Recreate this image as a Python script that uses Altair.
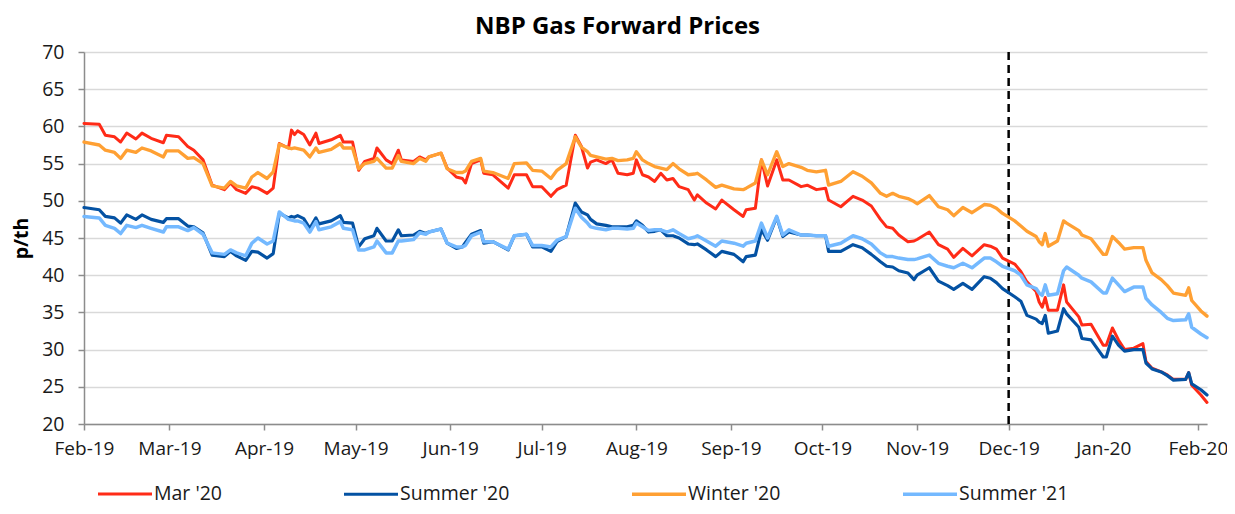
import altair as alt
import pandas as pd

# ---- data ----
dates = [
    "2019-02-01", "2019-02-06", "2019-02-08", "2019-02-11", "2019-02-13", "2019-02-15", "2019-02-18",
    "2019-02-20", "2019-02-23", "2019-02-27", "2019-02-28", "2019-03-04", "2019-03-07", "2019-03-09",
    "2019-03-12", "2019-03-15", "2019-03-19", "2019-03-21", "2019-03-23", "2019-03-26", "2019-03-28",
    "2019-03-30", "2019-04-02", "2019-04-04", "2019-04-06", "2019-04-09", "2019-04-10", "2019-04-11",
    "2019-04-12", "2019-04-14", "2019-04-16", "2019-04-18", "2019-04-19", "2019-04-23", "2019-04-26",
    "2019-04-27", "2019-04-30", "2019-05-02", "2019-05-04", "2019-05-07", "2019-05-08", "2019-05-11",
    "2019-05-13", "2019-05-15", "2019-05-16", "2019-05-20", "2019-05-22", "2019-05-24", "2019-05-25",
    "2019-05-29", "2019-05-31", "2019-06-03", "2019-06-05", "2019-06-06", "2019-06-08", "2019-06-11",
    "2019-06-12", "2019-06-15", "2019-06-20", "2019-06-22", "2019-06-26", "2019-06-28", "2019-07-01",
    "2019-07-04", "2019-07-06", "2019-07-09", "2019-07-12", "2019-07-14", "2019-07-16", "2019-07-17",
    "2019-07-19", "2019-07-22", "2019-07-24", "2019-07-26", "2019-07-29", "2019-07-31", "2019-08-01",
    "2019-08-03", "2019-08-05", "2019-08-07", "2019-08-09", "2019-08-11", "2019-08-13", "2019-08-15",
    "2019-08-18", "2019-08-20", "2019-08-21", "2019-08-24", "2019-08-27", "2019-08-29", "2019-09-02",
    "2019-09-05", "2019-09-06", "2019-09-09", "2019-09-11", "2019-09-13", "2019-09-16", "2019-09-18",
    "2019-09-20", "2019-09-24", "2019-09-26", "2019-09-29", "2019-10-02", "2019-10-03", "2019-10-07",
    "2019-10-11", "2019-10-14", "2019-10-17", "2019-10-20", "2019-10-22", "2019-10-24", "2019-10-26",
    "2019-10-29", "2019-10-31", "2019-11-01", "2019-11-05", "2019-11-08", "2019-11-11", "2019-11-13",
    "2019-11-16", "2019-11-19", "2019-11-23", "2019-11-25", "2019-11-27", "2019-11-29", "2019-12-03",
    "2019-12-05", "2019-12-07", "2019-12-10", "2019-12-11", "2019-12-12", "2019-12-13", "2019-12-14",
    "2019-12-17", "2019-12-19", "2019-12-20", "2019-12-24", "2019-12-25", "2019-12-28", "2020-01-01",
    "2020-01-02", "2020-01-04", "2020-01-06", "2020-01-08", "2020-01-11", "2020-01-14", "2020-01-15",
    "2020-01-17", "2020-01-20", "2020-01-22", "2020-01-24", "2020-01-28", "2020-01-29", "2020-01-30",
    "2020-02-02", "2020-02-04",
]

mar20 = [
    60.4, 60.3, 58.8, 58.6, 57.9, 59.1, 58.3, 59.1, 58.4, 57.8, 58.8, 58.6, 57.3, 56.8,
    55.5, 52.1, 51.5, 52.4, 51.5, 51.0, 51.9, 51.7, 51.0, 51.7, 57.7, 57.1, 59.5, 58.9,
    59.4, 58.9, 57.5, 59.1, 57.7, 58.2, 58.8, 57.9, 57.9, 54.1, 55.3, 55.7, 57.1, 55.5,
    55.0, 56.8, 55.5, 55.3, 55.9, 55.5, 55.9, 56.4, 54.4, 53.2, 53.0, 52.4, 55.0, 55.5,
    53.7, 53.5, 51.7, 53.5, 53.5, 51.9, 51.9, 50.6, 51.5, 52.1, 58.8, 57.3, 54.4, 55.2,
    55.5, 55.0, 55.5, 53.7, 53.5, 53.7, 55.5, 53.5, 53.2, 52.6, 53.7, 52.8, 53.0, 51.9,
    51.5, 50.1, 50.8, 49.7, 48.9, 50.1, 48.8, 47.9, 48.8, 49.0, 55.5, 52.0, 55.5, 52.8,
    52.8, 51.9, 52.1, 51.5, 51.7, 50.1, 49.2, 50.6, 50.1, 49.3, 47.5, 46.5, 46.3, 45.4,
    44.5, 44.6, 44.8, 45.8, 44.1, 43.5, 42.4, 43.6, 42.6, 44.1, 43.9, 43.5, 42.3, 41.5,
    40.5, 39.1, 37.8, 36.4, 35.7, 37.0, 35.3, 35.3, 38.7, 36.4, 34.4, 33.3, 33.4, 30.6,
    30.6, 32.9, 31.3, 30.0, 30.2, 30.8, 28.4, 27.5, 27.0, 26.6, 26.0, 26.0, 26.9, 25.2,
    23.9, 22.9,
]

summer20 = [
    49.1, 48.8, 47.9, 47.7, 47.0, 48.1, 47.5, 48.1, 47.5, 47.1, 47.6, 47.6, 46.6, 46.5,
    45.7, 42.7, 42.5, 43.2, 42.6, 42.0, 43.2, 43.1, 42.3, 42.9, 48.3, 47.7, 47.9, 47.8,
    48.0, 47.6, 46.3, 47.7, 46.9, 47.3, 48.0, 47.1, 47.0, 43.8, 44.9, 45.3, 46.3, 44.6,
    44.6, 46.1, 45.3, 45.4, 45.9, 45.6, 45.8, 46.2, 44.3, 43.6, 43.8, 44.4, 45.5, 46.0,
    44.3, 44.5, 43.4, 45.3, 45.5, 43.8, 43.8, 43.2, 44.5, 45.2, 49.7, 48.5, 48.1, 47.5,
    46.9, 46.7, 46.5, 46.5, 46.5, 46.7, 47.3, 46.7, 45.8, 45.9, 46.1, 45.3, 45.3, 45.0,
    44.2, 44.1, 44.2, 43.4, 42.5, 43.2, 42.8, 41.8, 42.5, 42.7, 46.1, 44.7, 47.8, 45.2,
    45.8, 45.4, 45.4, 45.3, 45.3, 43.2, 43.2, 44.1, 43.7, 42.8, 41.8, 41.2, 41.1, 40.6,
    40.3, 39.4, 40.0, 41.0, 39.2, 38.6, 38.1, 38.9, 38.1, 39.8, 39.6, 39.0, 38.2, 37.1,
    36.5, 34.6, 34.1, 33.7, 33.5, 34.6, 32.2, 32.5, 35.5, 34.8, 33.0, 31.5, 31.3, 29.0,
    29.0, 31.8, 30.6, 29.8, 30.0, 30.0, 28.2, 27.4, 27.0, 26.5, 25.9, 26.0, 26.9, 25.4,
    24.6, 23.9,
]

winter20 = [
    57.9, 57.5, 56.8, 56.5, 55.7, 56.8, 56.5, 57.1, 56.7, 55.9, 56.7, 56.7, 55.7, 55.8,
    55.0, 52.0, 51.7, 52.6, 52.0, 51.7, 53.2, 53.8, 53.0, 53.9, 57.6, 57.1, 57.0, 57.1,
    57.0, 56.8, 55.9, 57.1, 56.5, 56.9, 57.7, 57.1, 57.1, 54.3, 55.0, 55.3, 55.7, 54.4,
    54.4, 56.1, 55.3, 55.0, 55.7, 55.3, 55.9, 56.4, 54.3, 53.8, 53.8, 54.0, 55.3, 55.7,
    54.0, 53.8, 53.0, 55.0, 55.1, 54.1, 54.0, 53.0, 54.1, 55.0, 58.6, 57.2, 56.6, 56.1,
    55.9, 55.6, 55.7, 55.4, 55.5, 55.7, 56.6, 55.5, 55.0, 54.6, 54.4, 54.2, 55.0, 54.3,
    53.5, 53.6, 53.7, 52.8, 51.8, 52.1, 51.6, 51.5, 51.7, 52.4, 55.5, 53.5, 56.6, 54.6,
    55.0, 54.5, 54.1, 53.9, 54.1, 52.1, 52.6, 53.9, 53.3, 52.4, 51.0, 50.6, 51.0, 50.6,
    50.3, 49.9, 49.6, 50.7, 49.2, 48.8, 48.0, 49.1, 48.4, 49.5, 49.4, 49.0, 48.3, 47.3,
    46.6, 45.9, 45.2, 44.5, 44.1, 45.6, 43.9, 44.6, 47.3, 47.0, 46.0, 45.4, 44.9, 42.8,
    42.8, 45.2, 44.4, 43.5, 43.7, 43.7, 42.0, 40.3, 39.4, 38.6, 37.6, 37.3, 38.3, 36.6,
    35.2, 34.5,
]

summer21 = [
    47.9, 47.7, 46.7, 46.3, 45.6, 46.7, 46.4, 46.7, 46.3, 45.8, 46.5, 46.5, 46.0, 46.4,
    45.5, 43.0, 42.8, 43.4, 43.0, 42.6, 44.3, 45.0, 44.2, 44.6, 48.5, 47.5, 47.4, 47.3,
    47.3, 47.0, 45.8, 47.2, 46.1, 46.5, 47.2, 46.3, 46.1, 43.4, 43.4, 43.8, 44.6, 43.0,
    43.0, 44.6, 44.6, 44.8, 45.7, 45.5, 45.8, 46.2, 44.3, 43.8, 43.8, 44.0, 45.3, 45.8,
    44.5, 44.5, 43.5, 45.3, 45.5, 44.0, 44.0, 43.8, 44.7, 45.2, 49.0, 47.8, 47.0, 46.5,
    46.3, 46.1, 46.3, 46.3, 46.2, 46.3, 47.0, 46.5, 46.0, 46.1, 46.1, 45.8, 46.1, 45.6,
    44.9, 45.1, 45.3, 44.6, 43.9, 44.6, 44.3, 43.9, 44.3, 44.6, 47.0, 45.0, 47.9, 45.4,
    46.1, 45.4, 45.4, 45.3, 45.3, 43.9, 44.3, 45.3, 44.9, 44.2, 43.0, 42.5, 42.5, 42.3,
    42.1, 42.1, 42.2, 42.7, 41.6, 41.2, 41.0, 41.6, 41.0, 42.3, 42.3, 41.8, 41.2, 40.6,
    40.0, 38.7, 38.2, 37.6, 37.3, 38.7, 37.3, 37.5, 40.6, 41.1, 40.0, 39.6, 39.1, 37.6,
    37.6, 39.6, 38.7, 37.8, 38.4, 38.4, 36.9, 36.0, 35.0, 34.2, 33.9, 34.0, 34.8, 33.0,
    32.1, 31.6,
]

series_names = ["Mar '20", "Summer '20", "Winter '20", "Summer '21"]
series_colors = ["#FF2B17", "#0452A3", "#FFA033", "#74B9FF"]
series_widths = [3, 3.5, 3, 5]
month_ticks = [
    "2019-02-01", "2019-03-01", "2019-04-01", "2019-05-01", "2019-06-01", "2019-07-01",
    "2019-08-01", "2019-09-01", "2019-10-01", "2019-11-01", "2019-12-01", "2020-01-01",
    "2020-02-01",
]
x_domain = ["2019-02-01", "2020-02-04"]
y_ticks = [20, 25, 30, 35, 40, 45, 50, 55, 60, 65, 70]
marker_date = "2019-12-01"

FONT = "Open Sans"


def to_dt(s):
    return alt.DateTime(year=int(s[:4]), month=int(s[5:7]), date=int(s[8:10]))


wide = pd.DataFrame({
    "date": [d + "T00:00:00" for d in dates],
    series_names[0]: mar20,
    series_names[1]: summer20,
    series_names[2]: winter20,
    series_names[3]: summer21,
})
df = wide.melt(id_vars="date", var_name="series", value_name="price")

x_enc = alt.X(
    "date:T",
    scale=alt.Scale(domain=[to_dt(x_domain[0]), to_dt(x_domain[1])]),
    axis=alt.Axis(
        values=[to_dt(s) for s in month_ticks],
        format="%b-%y",
        title=None,
        grid=False,
        labelPadding=9,
        tickSize=6,
        labelFontSize=19,
        labelFlush=False,
        labelOverlap=False,
    ),
)

lines = alt.Chart(df).mark_line(strokeJoin="round", strokeCap="round").encode(
    x=x_enc,
    y=alt.Y(
        "price:Q",
        scale=alt.Scale(domain=[20, 70], nice=False, zero=False),
        axis=alt.Axis(
            values=y_ticks,
            title="p/th",
            titleFontSize=19.5,
            titleFontWeight="bold",
            titlePadding=10,
            labelPadding=14,
            tickSize=6,
            labelFontSize=19.5,
            labelFlush=False,
            labelOverlap=False,
            grid=True,
        ),
    ),
    color=alt.Color(
        "series:N",
        scale=alt.Scale(domain=series_names, range=series_colors),
        legend=alt.Legend(
            title=None,
            orient="none",
            legendX=12,
            legendY=413,
            direction="horizontal",
            columns=4,
            columnPadding=115,
            gridAlign="each",
            symbolType="stroke",
            symbolSize=2916,
            symbolStrokeWidth=5,
            labelFontSize=19.5,
            labelOffset=0,
            padding=0,
        ),
    ),
    strokeWidth=alt.StrokeWidth(
        "series:N",
        scale=alt.Scale(domain=series_names, range=series_widths),
        legend=None,
    ),
)

rule = alt.Chart(pd.DataFrame({"date": [marker_date + "T00:00:00"]})).mark_rule(
    color="black", strokeDash=[8, 5], strokeWidth=2.5
).encode(x="date:T")

chart = alt.layer(rule, lines).properties(
    width=1123,
    height=372,
    autosize=alt.AutoSizeParams(type="none"),
    padding={"left": 76, "top": 44, "right": 20, "bottom": 82},
    title=alt.TitleParams(
        "NBP Gas Forward Prices",
        fontSize=24,
        fontWeight="bold",
        font=FONT,
        anchor="middle",
        dx=-28,
        offset=3,
        color="black",
    ),
).configure_view(stroke=None).configure_axis(
    labelFont=FONT,
    titleFont=FONT,
    labelColor="#1a1a1a",
    titleColor="black",
    domainColor="#8C8C8C",
    domainWidth=1.5,
    tickColor="#8C8C8C",
    tickWidth=1.5,
    gridColor="#D9D9D9",
    gridWidth=1.5,
).configure_legend(
    labelFont=FONT,
    labelColor="#1a1a1a",
)

chart.save("out.html", embed_options={"renderer": "svg", "actions": False})
